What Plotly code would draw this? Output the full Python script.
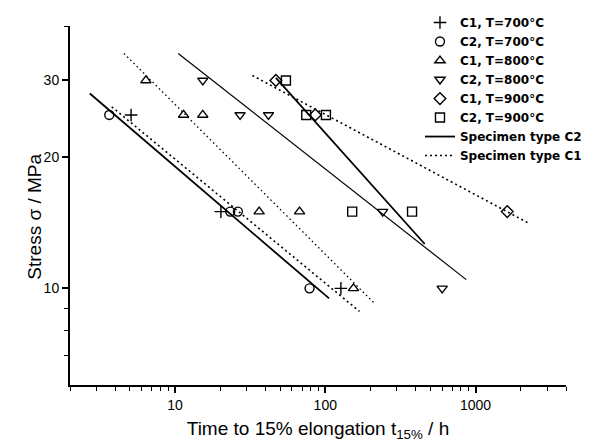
import plotly.graph_objects as go
import numpy as np

# ---- data (time to 15% elongation in h, stress in MPa) ----
c1_700_x = [5.1, 20.2, 127]
c1_700_y = [25, 15, 10]
c2_700_x = [3.65, 23.3, 26.2, 78.6]
c2_700_y = [25, 15, 15, 10]
c1_800_x = [6.4, 11.4, 15.3, 36.3, 67.4, 154]
c1_800_y = [30, 25, 25, 15, 15, 10]
c2_800_x = [15.3, 27.1, 41.9, 241, 600]
c2_800_y = [30, 25, 25, 15, 10]
c1_900_x = [46.9, 85.8, 1626]
c1_900_y = [30, 25, 15]
c2_900_x = [54.7, 74.7, 101, 151, 378]
c2_900_y = [30, 25, 25, 15, 15]

# fitted lines (endpoints)
fit_c2_700_x = [2.71, 106]
fit_c2_700_y = [28.0, 9.48]
fit_c2_800_x = [10.5, 867]
fit_c2_800_y = [34.6, 10.47]
fit_c2_900_x = [46.9, 459]
fit_c2_900_y = [30.4, 12.64]
fit_c1_700_x = [3.79, 169]
fit_c1_700_y = [26.1, 8.85]
fit_c1_800_x = [4.57, 215]
fit_c1_800_y = [34.6, 9.2]
fit_c1_900_x = [32.7, 2265]
fit_c1_900_y = [30.8, 14.1]

x_major = [10, 100, 1000]
x_major_labels = ["10", "100", "1000"]
y_major = [10, 20, 30]
y_major_labels = ["10", "20", "30"]

FONT = "Liberation Sans, Arial, sans-serif"
LEGEND_FONT = "DejaVu Sans, Liberation Sans, sans-serif"
fig = go.Figure()

def add_markers(x, y, name, symbol):
    fig.add_trace(go.Scatter(
        x=x, y=y, mode="markers", name=name,
        marker=dict(symbol=symbol, size=9, color="black",
                    line=dict(color="black", width=1.4)),
        cliponaxis=False))

add_markers(c1_700_x, c1_700_y, "C1, T=700°C", "cross-thin-open")
add_markers(c2_700_x, c2_700_y, "C2, T=700°C", "circle-open")
add_markers(c1_800_x, c1_800_y, "C1, T=800°C", "triangle-up-open")
add_markers(c2_800_x, c2_800_y, "C2, T=800°C", "triangle-down-open")
add_markers(c1_900_x, c1_900_y, "C1, T=900°C", "diamond-open")
add_markers(c2_900_x, c2_900_y, "C2, T=900°C", "square-open")

def add_line(x, y, name, dash, width, show):
    fig.add_trace(go.Scatter(
        x=x, y=y, mode="lines", name=name, showlegend=show,
        line=dict(color="black", width=width, dash=dash)))

add_line(fit_c2_700_x, fit_c2_700_y, "Specimen type C2", "solid", 1.8, True)
add_line(fit_c2_800_x, fit_c2_800_y, "Specimen type C2", "solid", 1.2, False)
add_line(fit_c2_900_x, fit_c2_900_y, "Specimen type C2", "solid", 1.8, False)
add_line(fit_c1_700_x, fit_c1_700_y, "Specimen type C1", "2px,3px", 1.6, True)
add_line(fit_c1_800_x, fit_c1_800_y, "Specimen type C1", "1.5px,3px", 1.3, False)
add_line(fit_c1_900_x, fit_c1_900_y, "Specimen type C1", "2px,3px", 1.6, False)

fig.update_layout(
    width=591, height=444,
    margin=dict(l=70, r=25, t=26, b=59, autoexpand=False),
    paper_bgcolor="white", plot_bgcolor="white",
    font=dict(family=FONT, color="black", size=14),
    legend=dict(x=0.7056, y=1.05, xanchor="left", yanchor="top",
                font=dict(family=LEGEND_FONT, size=12, weight="bold"),
                bgcolor="rgba(0,0,0,0)", borderwidth=0),
    annotations=[dict(text="Stress σ / MPa", textangle=-90,
                      x=-0.097, y=0.47, xref="paper", yref="paper",
                      showarrow=False, font=dict(size=19, family=FONT))],
)

fig.update_xaxes(
    type="log", range=[np.log10(2), np.log10(4000)], automargin=False,
    showline=True, linecolor="black", linewidth=2, mirror=False,
    showgrid=False, zeroline=False,
    tickmode="array", tickvals=x_major, ticktext=x_major_labels,
    ticks="outside", ticklen=6, tickwidth=1.5, tickcolor="black",
    tickfont=dict(size=14),
    minor=dict(dtick="D1", ticks="outside",
               ticklen=4, tickwidth=1.3, tickcolor="black", showgrid=False),
    title=dict(text="Time to 15% elongation t<sub>15%</sub> / h",
               font=dict(size=19), standoff=10),
)
fig.update_yaxes(
    type="log", range=[np.log10(6), np.log10(40)], automargin=False,
    showline=True, linecolor="black", linewidth=2, mirror=False,
    showgrid=False, zeroline=False,
    tickmode="array", tickvals=y_major, ticktext=y_major_labels,
    ticks="outside", ticklen=6, tickwidth=1.5, tickcolor="black",
    tickfont=dict(size=14),
    minor=dict(dtick="D1", ticks="outside",
               ticklen=4, tickwidth=1.3, tickcolor="black", showgrid=False),
)

fig.write_html("out.html")
